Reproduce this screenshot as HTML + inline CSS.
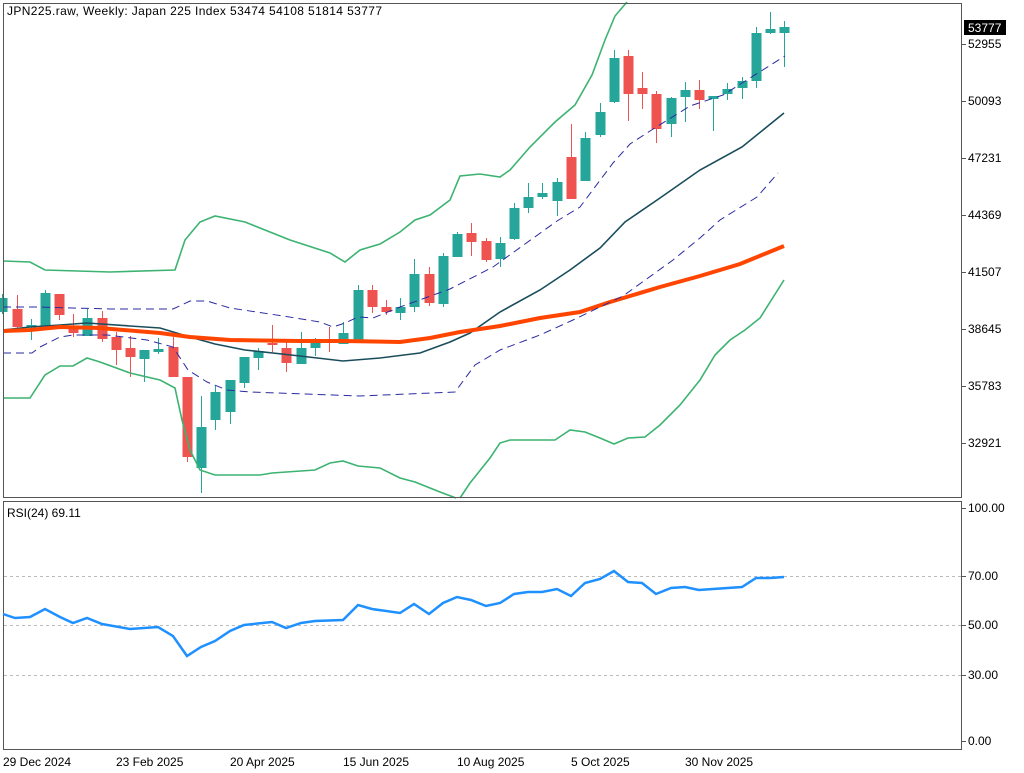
<!DOCTYPE html>
<html><head><meta charset="utf-8"><style>
html,body{margin:0;padding:0;background:#fff;}
svg{display:block;font-family:"Liberation Sans","DejaVu Sans",sans-serif;}
</style></head><body>
<svg id="s" width="1024" height="773" viewBox="0 0 1024 773" xmlns="http://www.w3.org/2000/svg">
<rect width="1024" height="773" fill="#fff"/>
<g id="cd"></g>
<polyline fill="none" stroke="#3cb371" stroke-width="1.6" points="3,261 30,262 45,270 110,272 175,270 185,240 200,222 215,216 245,222 290,240 330,253 345,262 360,250 380,244 400,232 415,220 430,215 450,200 460,176 480,174 500,177 510,170 530,147 555,122 575,105 592,75 605,40 615,16 627,2"/>
<polyline fill="none" stroke="#3cb371" stroke-width="1.6" points="3,398 30,398 45,375 60,366 73,366 87,358 100,362 130,373 160,380 175,388 182,420 190,450 200,470 215,475 260,475 272,473 315,470 330,463 343,461 358,466 380,468 400,478 415,482 440,492 456,498"/>
<polyline fill="none" stroke="#3cb371" stroke-width="1.6" points="460,498 470,483 490,458 500,443 510,440 555,440 570,430 585,432 600,438 614,444 628,438 645,437 660,425 680,405 700,380 715,355 730,340 745,330 760,318 784,280"/>
<polyline fill="none" stroke="#1a4d5c" stroke-width="1.6" points="3,330 30,327 60,325 87,323 130,326 160,328 190,337 215,344 245,350 300,356 343,361 380,358 420,353 450,342 470,333 500,312 540,290 570,270 600,248 625,222 660,198 700,170 742,147 784,113"/>
<polyline fill="none" stroke="#ff4500" stroke-width="4" points="3,331 30,330 60,327 100,328 160,333 190,337 230,340 300,341 343,341 400,342 430,338 460,332 500,326 540,318 580,312 610,302 660,287 700,276 740,264 784,246"/>
<polyline fill="none" stroke="#2a2aa0" stroke-width="1" stroke-dasharray="8,5" points="3,307 37,307 110,309 173,309 190,301 207,301 230,308 283,316 320,322 333,327 345,323 358,317 373,318 400,307 450,289 493,267 557,221 580,207 613,163 630,144 650,131 690,106 723,95 785,56"/>
<polyline fill="none" stroke="#2a2aa0" stroke-width="1" stroke-dasharray="8,5" points="3,353 32,353 40,347 60,337 73,335 107,335 147,340 173,347 188,370 207,382 227,390 250,392 360,396 455,392 475,365 500,350 540,335 573,320 623,296 673,260 700,238 720,220 757,197 778,173"/>
<rect x="3.5" y="3.5" width="958" height="494" fill="none" stroke="#555" stroke-width="1"/>
<rect x="3.5" y="501.5" width="958" height="248" fill="none" stroke="#555" stroke-width="1"/>
<text x="7" y="15" font-size="12" fill="#000" textLength="375" lengthAdjust="spacing">JPN225.raw, Weekly:  Japan 225 Index  53474 54108 51814 53777</text>
<text x="7" y="517" font-size="12" fill="#000">RSI(24) 69.11</text>
<g id="ax" font-size="12" fill="#000"></g>
<rect x="964" y="20" width="42" height="15" fill="#000"/>
<text x="968" y="32" font-size="12" fill="#fff">53777</text>
<g stroke="#bbb" stroke-dasharray="3,3" stroke-width="1">
<line x1="4" y1="576.5" x2="961" y2="576.5"/><line x1="4" y1="625.5" x2="961" y2="625.5"/><line x1="4" y1="675.5" x2="961" y2="675.5"/>
</g>
<polyline fill="none" stroke="#1e90ff" stroke-width="2.5" points="3,614 15,618 30,617 45,609 60,617 73,623 87,618 102,624 130,629 158,627 173,636 187,656 201,647 215,641 230,631 244,625 272,622 286,628 301,623 315,621 343,620 358,605 372,609 400,613 414,604 429,614 443,603 457,597 471,600 486,606 500,603 514,594 528,592 542,592 557,589 571,596 585,583 600,579 614,571 628,582 642,583 656,594 671,588 685,587 699,590 713,589 742,587 756,578 770,578 784,577"/>
<g font-size="12" fill="#000">
<text x="3" y="766">29 Dec 2024</text><text x="116" y="766">23 Feb 2025</text><text x="230" y="766">20 Apr 2025</text><text x="343" y="766">15 Jun 2025</text><text x="457" y="766">10 Aug 2025</text><text x="571" y="766">5 Oct 2025</text><text x="685" y="766">30 Nov 2025</text>
</g>
</svg>
<script>
var C=[
[2,1,298,312,294,314],[17,0,309,327,295,332],[31,1,325,326,319,340],[45,1,293,326,290,326],[59,0,294,315,294,320],[73,0,328,333,314,337],[87,1,318,336,309,336],[102,0,318,339,311,342],[116,0,337,350,332,365],[130,0,348,357,336,377],[144,1,350,359,350,382],[158,1,349,352,338,354],[173,0,347,377,337,377],[187,0,377,457,377,462],[201,1,427,468,396,493],[215,1,392,420,386,430],[230,1,380,412,380,424],[244,1,357,383,357,388],[258,1,351,358,348,370],[272,0,343,345,325,352],[286,0,348,363,342,372],[301,1,348,364,332,364],[315,1,341,348,338,356],[329,0,340,342,327,352],[343,1,333,344,322,344],[358,1,290,342,285,342],[372,0,290,307,285,313],[386,0,307,312,300,315],[400,1,307,313,298,320],[414,1,274,307,259,312],[429,0,274,303,267,306],[443,1,256,304,253,307],[457,1,234,257,232,257],[471,0,233,242,223,256],[486,0,241,260,238,262],[500,1,243,259,237,267],[514,1,208,239,203,240],[528,1,197,208,183,213],[542,1,193,197,183,199],[557,1,182,201,178,216],[571,0,157,199,124,199],[585,1,138,181,132,181],[600,1,112,135,103,137],[614,1,58,102,50,103],[628,0,56,94,50,121],[642,0,88,94,72,109],[656,0,94,129,91,143],[671,1,98,124,97,137],[685,1,90,97,82,122],[699,0,90,100,80,109],[713,1,96,99,96,131],[727,1,89,94,83,100],[742,1,81,88,77,99],[756,1,33,81,27,88],[770,1,29,33,12,34],[784,1,27,33,21,67]];
var g=document.getElementById('cd'),h='';
C.forEach(function(c){var col=c[1]?'#26a69a':'#ef5350';var x=c[0];
h+='<line x1="'+(x+.5)+'" y1="'+c[4]+'" x2="'+(x+.5)+'" y2="'+c[5]+'" stroke="'+col+'" stroke-width="1"/>';
var bh=Math.max(c[3]-c[2],2);h+='<rect x="'+(x-4.5)+'" y="'+c[2]+'" width="10" height="'+bh+'" fill="'+col+'"/>';});
g.innerHTML=h;
var a=document.getElementById('ax'),t='';
[[44,'52955'],[101,'50093'],[158,'47231'],[215,'44369'],[272,'41507'],[329,'38645'],[386,'35783'],[443,'32921'],[508,'100.00'],[576,'70.00'],[625,'50.00'],[675,'30.00'],[741,'0.00']].forEach(function(l){
t+='<line x1="962" y1="'+(l[0]+.5)+'" x2="966" y2="'+(l[0]+.5)+'" stroke="#555"/><text x="968" y="'+(l[0]+4)+'">'+l[1]+'</text>';});
a.innerHTML=t;
</script>
</body></html>
